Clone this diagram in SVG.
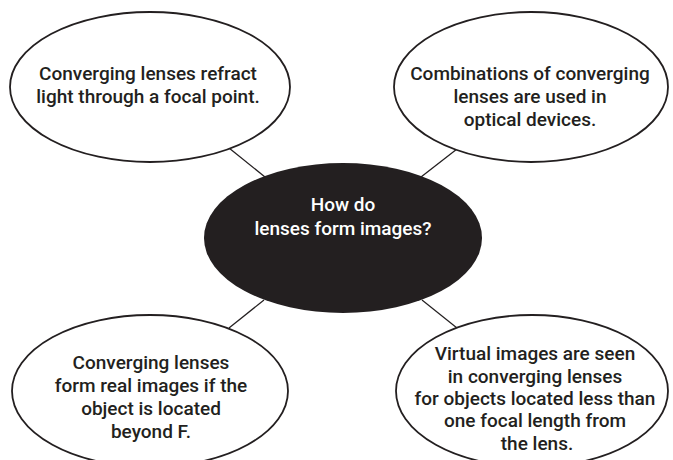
<svg xmlns="http://www.w3.org/2000/svg" width="673" height="460" viewBox="0 0 673 460">
  <style>
    .edge { stroke: #231f20; stroke-width: 1.3; fill: none; }
    .leaf { fill: #ffffff; stroke: #231f20; stroke-width: 1.8; }
    .hub { fill: #231f20; stroke: none; }
    text { font-family: Roboto, "Liberation Sans", sans-serif; font-weight: 500; font-size: 19px; text-anchor: middle; }
    .dark { fill: #231f20; }
    .light { fill: #ffffff; }
  </style>
  <rect width="673" height="460" fill="#ffffff"/>

  <g id="connectors">
    <line class="edge" x1="229" y1="148" x2="265" y2="177"/>
    <line class="edge" x1="457" y1="149" x2="421" y2="177"/>
    <line class="edge" x1="264" y1="300" x2="229" y2="328"/>
    <line class="edge" x1="422" y1="300" x2="457" y2="328"/>
  </g>

  <g id="hub">
    <ellipse class="hub" cx="343" cy="238" rx="139" ry="75"/>
    <text class="light" x="343" y="211">How do</text>
    <text class="light" x="343" y="235">lenses form images?</text>
  </g>

  <g id="focal-point">
    <ellipse class="leaf" cx="150" cy="87" rx="140" ry="75"/>
    <text class="dark" x="148" y="80">Converging lenses refract</text>
    <text class="dark" x="148" y="103">light through a focal point.</text>
  </g>

  <g id="optical-devices">
    <ellipse class="leaf" cx="531" cy="87" rx="137" ry="75"/>
    <text class="dark" x="530" y="80">Combinations of converging</text>
    <text class="dark" x="530" y="103">lenses are used in</text>
    <text class="dark" x="530" y="126">optical devices.</text>
  </g>

  <g id="real-images">
    <ellipse class="leaf" cx="150" cy="391" rx="138" ry="76"/>
    <text class="dark" x="151" y="369">Converging lenses</text>
    <text class="dark" x="151" y="392">form real images if the</text>
    <text class="dark" x="151" y="415">object is located</text>
    <text class="dark" x="151" y="438">beyond F.</text>
  </g>

  <g id="virtual-images">
    <ellipse class="leaf" cx="532" cy="391" rx="136" ry="76"/>
    <text class="dark" x="535" y="360">Virtual images are seen</text>
    <text class="dark" x="535" y="383">in converging lenses</text>
    <text class="dark" x="535" y="405">for objects located less than</text>
    <text class="dark" x="535" y="427">one focal length from</text>
    <text class="dark" x="537" y="450">the lens.</text>
  </g>
</svg>
